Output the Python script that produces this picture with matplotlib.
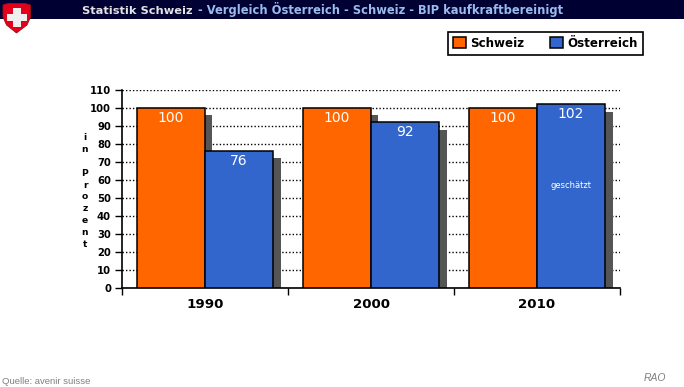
import matplotlib
matplotlib.use('Agg')
import matplotlib.pyplot as plt
from matplotlib.patches import Polygon, Rectangle
import numpy as np

years = ['1990', '2000', '2010']
schweiz = [100, 100, 100]
oesterreich = [76, 92, 102]
yticks = list(range(0, 111, 10))

orange = '#FF6600'
blue = '#3366CC'
shadow = '#555555'
W, H = 684, 387

fig = plt.figure(figsize=(6.84, 3.87), dpi=100)

# page layer in pixels, top left origin
bg = fig.add_axes([0, 0, 1, 1])
bg.set_xlim(0, W)
bg.set_ylim(H, 0)
bg.axis('off')
bg.add_patch(Rectangle((0, 0), W, 18.5, color='#000033', lw=0))

# shield
shield = [(3, 5), (8, 3.5), (25, 3.5), (30.5, 5), (30.5, 17), (27, 25), (16.5, 33), (6.5, 25), (3, 17)]
bg.add_patch(Polygon(shield, closed=True, fc='#E2001A', ec='#A01018', lw=0.6, zorder=3))
bg.add_patch(Rectangle((12.5, 7.5), 8, 19.5, color='#EFEFEF', lw=0, zorder=4))
bg.add_patch(Rectangle((6.5, 13.5), 20.5, 7, color='#EFEFEF', lw=0, zorder=4))

# header
t1 = bg.text(82, 14, 'Statistik Schweiz', color='#E4E4E4', fontsize=8.2, fontweight='bold',
             va='baseline', ha='left')
fig.canvas.draw()
ext = t1.get_window_extent()
bg.text(ext.x1 + 5, 14, '- Vergleich Österreich - Schweiz - BIP kaufkraftbereinigt', color='#99BBEE',
        fontsize=8.3, fontweight='bold', va='baseline', ha='left')

# main plot
ax = fig.add_axes([122 / W, 1 - 288 / H, 498 / W, 198 / H])
x = np.arange(len(years))
bw = 0.41
off = 0.045
drop = 4
ax.bar(x - bw / 2 + off, np.array(schweiz) - drop, bw, color=shadow, zorder=2)
ax.bar(x + bw / 2 + off, np.array(oesterreich) - drop, bw, color=shadow, zorder=2)
b1 = ax.bar(x - bw / 2, schweiz, bw, color=orange, edgecolor='black', linewidth=1.1, zorder=3, label='Schweiz')
b2 = ax.bar(x + bw / 2 + 0.002, oesterreich, bw, color=blue, edgecolor='black', linewidth=1.1, zorder=4,
            label='Österreich')

ax.set_xlim(-0.5, 2.5)
ax.set_ylim(0, 110)
ax.set_yticks(yticks)
ax.set_xticks([-0.5, 0.5, 1.5, 2.5])
ax.set_xticklabels([])
ax.tick_params(axis='x', length=5, width=1, direction='out')
ax.tick_params(axis='y', length=5, width=1, direction='out', pad=3)
for lab in ax.get_yticklabels():
    lab.set_fontsize(7.2)
    lab.set_fontweight('bold')
ax.grid(axis='y', color='black', linestyle=(0, (1, 1.5)), linewidth=1, zorder=1)
ax.set_axisbelow(True)
for s in ['top', 'right']:
    ax.spines[s].set_visible(False)
for s in ['left', 'bottom']:
    ax.spines[s].set_linewidth(1.2)

for i, y in enumerate(years):
    ax.text(i, -5.5, y, ha='center', va='top', fontsize=9.6, fontweight='bold', clip_on=False)
for i in range(len(years)):
    ax.annotate(str(schweiz[i]), (i - bw / 2, schweiz[i]), xytext=(0, -10), textcoords='offset pixels',
                ha='center', va='center', color='white', fontsize=10, zorder=6)
    ax.annotate(str(oesterreich[i]), (i + bw / 2, oesterreich[i]), xytext=(0, -10), textcoords='offset pixels',
                ha='center', va='center', color='white', fontsize=10, zorder=6)
ax.text(2 + bw / 2, 57, 'geschätzt', color='white', ha='center', va='center', fontsize=6, zorder=6)

bg.text(85, 191, 'i\nn\n\nP\nr\no\nz\ne\nn\nt', ha='center', va='center', fontsize=6.6, fontweight='bold',
        linespacing=1.42)

leg = fig.legend(handles=[b1, b2], loc='upper left', bbox_to_anchor=(448 / W, 1 - 32 / H), ncol=2, fancybox=False,
                 framealpha=1, edgecolor='black', fontsize=8.6, handlelength=1.05, handleheight=1.05,
                 handletextpad=0.4, columnspacing=2.15, borderpad=0.42, borderaxespad=0)
leg.get_frame().set_linewidth(1.2)
for t in leg.get_texts():
    t.set_fontweight('bold')

bg.text(2, 381, 'Quelle: avenir suisse', color='#808080', fontsize=6.8, va='center', ha='left',
        family='Liberation Sans')
bg.text(655, 378, 'RAO', color='#808080', fontsize=7.5, style='italic', va='center', ha='center',
        family='Liberation Sans')

fig.savefig('out.png', dpi=100)
